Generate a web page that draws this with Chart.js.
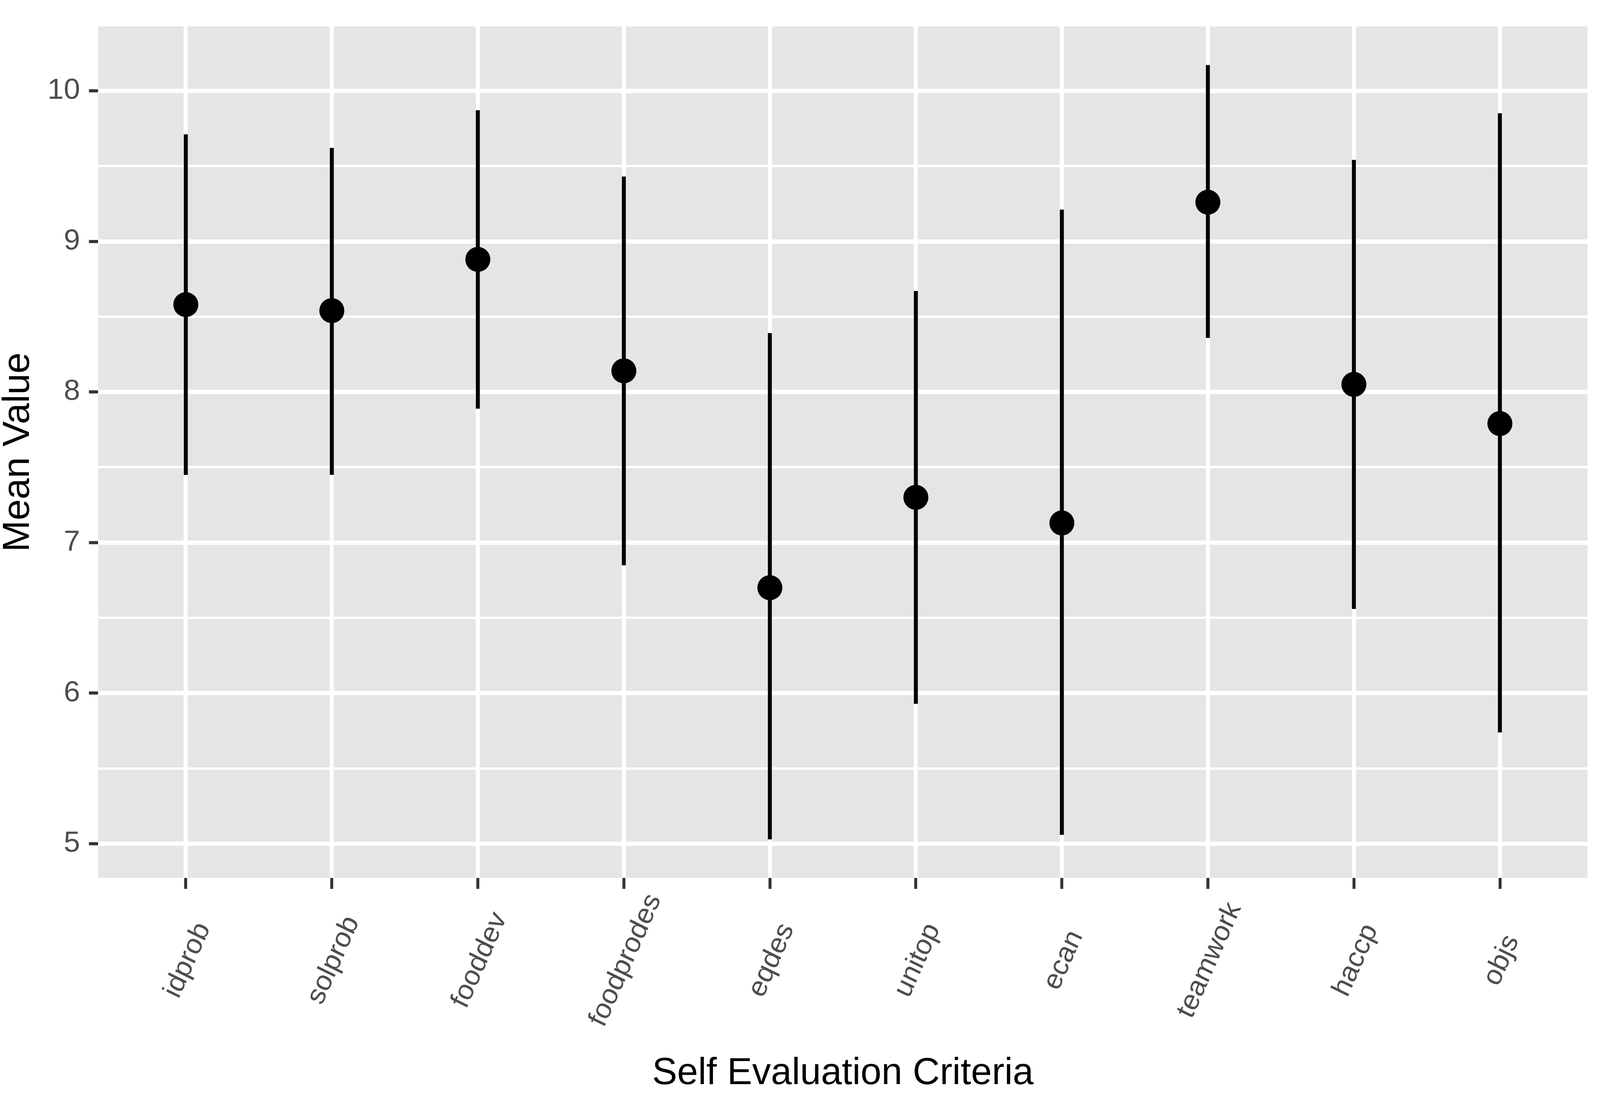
<!DOCTYPE html>
<html>
<head>
<meta charset="utf-8">
<script src="https://cdn.jsdelivr.net/npm/chart.js@4.4.1/dist/chart.umd.min.js"></script>
<style>
    html, body { margin: 0; padding: 0; background: #ffffff; overflow: hidden; }
    #wrap { position: relative; width: 100vw; height: 100vh; }
</style>
</head>
<body>
<div id="wrap"><canvas id="critChart"></canvas></div>
<script>
const categories = ['idprob', 'solprob', 'fooddev', 'foodprodes', 'eqdes', 'unitop', 'ecan', 'teamwork', 'haccp', 'objs'];
const means = [8.58, 8.54, 8.88, 8.14, 6.70, 7.30, 7.13, 9.26, 8.05, 7.79];
const lower = [7.45, 7.45, 7.89, 6.85, 5.03, 5.93, 5.06, 8.36, 6.56, 5.74];
const upper = [9.71, 9.62, 9.87, 9.43, 8.39, 8.67, 9.21, 10.17, 9.54, 9.85];
const yTicks = [5, 6, 7, 8, 9, 10];

document.addEventListener('DOMContentLoaded', function () {
    // layout measured on a 4317 x 2809 picture, scaled to the real window
    const sx = window.innerWidth / 4317;
    const sy = window.innerHeight / 2809;
    const X = function (v) { return v * sx; };
    const Y = function (v) { return v * sy; };

    // ggplot style limits: 5% expansion on y, 0.6 units on the discrete x
    const lo = Math.min(...lower);
    const hi = Math.max(...upper);
    const pad = (hi - lo) * 0.05;

    const yAll = [];
    yTicks.forEach(function (t, i) {
        yAll.push(t);
        if (i < yTicks.length - 1) yAll.push(t + 0.5);
    });

    const panelBg = {
        id: 'panelBg',
        beforeDraw(chart) {
            const a = chart.chartArea;
            const ctx = chart.ctx;
            ctx.save();
            ctx.fillStyle = '#E5E5E5';
            ctx.fillRect(a.left, a.top, a.right - a.left, a.bottom - a.top);
            ctx.restore();
        }
    };

    // ggplot centres its rotated labels under the tick, Chart.js right-aligns them
    const centredLabels = {
        id: 'centredLabels',
        afterDraw(chart) {
            const scale = chart.scales.x;
            const ctx = chart.ctx;
            ctx.save();
            ctx.fillStyle = '#4D4D4D';
            ctx.font = Y(73) + 'px "Liberation Sans"';
            ctx.textAlign = 'center';
            ctx.textBaseline = 'middle';
            categories.forEach(function (c, i) {
                ctx.save();
                ctx.translate(scale.getPixelForValue(i) + X(5), scale.top + Y(211));
                ctx.scale(sx / sy, 1);
                ctx.rotate(-65 * Math.PI / 180);
                ctx.fillText(c, 0, 0);
                ctx.restore();
            });
            ctx.restore();
        }
    };

    const ctx = document.getElementById('critChart').getContext('2d');
    new Chart(ctx, {
        type: 'bar',
        data: {
            datasets: [{
                type: 'line',
                data: means.map(function (m, i) { return { x: i, y: m }; }),
                showLine: false,
                pointRadius: Y(32),
                pointHoverRadius: Y(32),
                pointBackgroundColor: '#000000',
                pointBorderWidth: 0,
                order: 0
            }, {
                type: 'bar',
                data: lower.map(function (l, i) { return { x: i, y: [l, upper[i]] }; }),
                backgroundColor: '#000000',
                borderWidth: 0,
                barThickness: X(10),
                order: 1
            }]
        },
        options: {
            responsive: true,
            maintainAspectRatio: false,
            animation: false,
            layout: { padding: { top: Y(14), right: X(8), left: 0, bottom: 0 } },
            plugins: {
                legend: { display: false },
                tooltip: { enabled: false }
            },
            scales: {
                x: {
                    type: 'linear',
                    min: -0.6,
                    max: categories.length - 1 + 0.6,
                    offset: false,
                    afterBuildTicks: function (scale) {
                        scale.ticks = categories.map(function (c, i) { return { value: i }; });
                    },
                    afterFit: function (scale) { scale.height = Y(561); },
                    border: { display: false },
                    grid: {
                        offset: false,
                        color: '#FFFFFF',
                        lineWidth: X(11),
                        tickLength: Y(28),
                        tickColor: '#333333',
                        tickWidth: X(8)
                    },
                    ticks: { display: false },
                    title: {
                        display: true,
                        text: 'Self Evaluation Criteria',
                        color: '#000000',
                        font: { family: 'Liberation Sans', size: Y(96) },
                        padding: { top: 0, bottom: Y(2) }
                    }
                },
                y: {
                    type: 'linear',
                    min: lo - pad,
                    max: hi + pad,
                    afterBuildTicks: function (scale) {
                        scale.ticks = yAll.map(function (v) { return { value: v }; });
                    },
                    afterFit: function (scale) { scale.width = X(265); },
                    border: { display: false },
                    grid: {
                        color: '#FFFFFF',
                        lineWidth: function (c) { return Number.isInteger(c.tick.value) ? Y(11) : Y(6); },
                        tickLength: X(25),
                        tickColor: function (c) { return Number.isInteger(c.tick.value) ? '#333333' : 'rgba(0,0,0,0)'; },
                        tickWidth: Y(8)
                    },
                    ticks: {
                        padding: X(24),
                        color: '#4D4D4D',
                        font: { family: 'Liberation Sans', size: Y(75) },
                        callback: function (v) { return Number.isInteger(v) ? String(v) : ''; }
                    },
                    title: {
                        display: true,
                        text: 'Mean Value',
                        color: '#000000',
                        font: { family: 'Liberation Sans', size: Y(97), lineHeight: 1.03 * sx / sy },
                        padding: { top: 0, bottom: 0 }
                    }
                }
            }
        },
        plugins: [panelBg, centredLabels]
    });
});
</script>
</body>
</html>
